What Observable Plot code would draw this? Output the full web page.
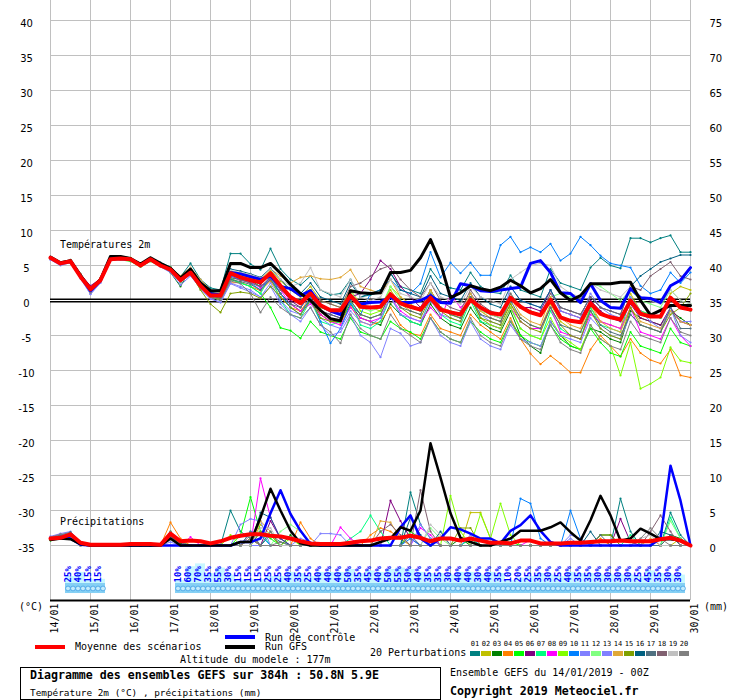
<!DOCTYPE html>
<html><head><meta charset="utf-8">
<script src="https://cdn.jsdelivr.net/npm/d3@7"></script>
<script src="https://cdn.jsdelivr.net/npm/@observablehq/plot@0.6"></script>
<style>
body{margin:0;background:#fff;}
#wrap{position:relative;width:740px;height:700px;font-family:"DejaVu Sans Mono",monospace;font-size:10px;color:#000;overflow:hidden;}
#wrap svg{position:absolute;left:0;top:0;}
.abs{position:absolute;white-space:nowrap;line-height:1;}
.bar{position:absolute;height:4px;width:30px;}
</style></head><body><div id="wrap"></div>
<script>
// ---------- tick labels ----------
const dayLabels = ["14/01","15/01","16/01","17/01","18/01","19/01","20/01","21/01","22/01","23/01","24/01","25/01","26/01","27/01","28/01","29/01","30/01"];
const tempTicks = [-35,-30,-25,-20,-15,-10,-5,0,5,10,15,20,25,30,35,40];
const precipTicks = [0,5,10,15,20,25,30,35,40,45,50,55,60,65,70,75];
const mmOffset = 35; // right axis (mm) = left axis (°C) + 35

// ---------- temperature 2m (°C), every 6h from 14/01 00Z ----------
const meanT = [6.1,5.3,5.6,3.4,1.6,2.9,5.9,6.0,5.9,5.0,5.9,5.0,
 4.4,2.9,4.0,2.1,0.7,0.7,3.9,3.3,2.9,2.6,3.9,2.1,0.5,
 -0.4,1.0,-0.7,-1.4,-1.4,0.7,-0.9,-1.0,-0.9,0.9,-0.4,-0.9,-1.3,0.4,-1.3,-1.7,-2.0,0.1,-1.0,-1.8,-2.0,
 0.4,-0.9,-1.7,-2.1,0.1,-2.4,-2.9,-3.1,-0.4,-1.9,-2.4,-2.7,0.0,-1.9,-2.3,-2.3,0.4,-1.0,-1.3];
const ctrlT = [6.1,5.3,5.6,3.5,1.4,2.9,6.0,6.0,5.9,5.1,5.9,5.1,
 4.5,3.0,4.2,2.4,1.0,0.8,4.0,3.8,3.4,3.0,3.5,2.0,1.7,
 0.7,1.4,-0.7,-1.5,-2.0,0.5,-0.5,-0.3,-0.2,0.5,-0.3,-0.3,0.0,0.7,-0.3,-0.4,2.4,2.1,1.4,1.3,1.5,
 1.7,1.9,5.3,5.7,4.0,1.1,1.0,-0.3,2.4,0.0,-1.0,-1.1,1.7,0.4,0.3,-0.3,2.1,2.9,4.7];
const gfsT = [6.2,5.4,5.7,3.6,1.6,3.0,6.3,6.3,6.0,5.2,6.1,5.3,
 4.6,3.2,4.5,2.5,1.4,1.4,5.3,5.3,4.7,4.7,5.3,3.9,2.3,
 1.0,0.0,-1.4,-2.6,-2.9,1.4,1.1,1.0,1.1,4.0,4.0,4.3,6.1,8.7,5.3,0.4,1.1,2.1,1.7,1.4,1.9,
 2.9,2.1,1.1,1.7,3.0,1.1,0.0,0.7,2.4,2.4,2.4,2.6,2.6,0.0,-2.1,-1.4,-0.7,-0.7,-0.7];
const t01 = [6.2,5.4,5.8,3.8,1.8,3.2,6.3,6.2,6.0,5.3,6.1,5.4,
 4.8,3.4,5.3,3.0,1.8,1.5,6.7,6.7,5.2,4.4,7.4,4.5,3.0,
 2.2,3.5,1.5,0.8,1.0,3.0,0.5,0.8,1.2,3.8,2.0,1.5,1.0,4.5,2.5,1.8,1.5,4.0,2.0,1.2,1.0,
 3.6,1.5,1.0,0.5,4.5,2.5,2.0,1.5,4.7,6.1,5.0,4.6,8.9,8.9,8.3,8.9,9.3,6.9,6.9];
const t02 = [6.1,5.3,5.6,3.6,1.5,2.9,6.0,6.1,5.9,5.1,5.9,5.1,
 4.5,3.1,4.3,2.5,1.2,0.8,4.2,3.9,3.6,3.0,4.3,2.8,1.5,
 0.5,2.0,0.0,-0.5,-1.0,1.5,-0.5,-1.0,-1.5,1.5,-0.5,-1.5,-2.0,1.0,-1.0,-2.0,-2.5,0.5,-1.5,-2.5,-3.0,
 -0.5,-2.5,-3.5,-4.0,-0.5,-3.0,-4.0,-4.5,-1.0,-3.0,-3.5,-4.0,1.0,-1.5,-2.0,-2.5,1.0,2.0,1.5];
const t03 = [6.0,5.3,5.5,3.5,1.4,2.9,6.0,6.0,5.9,5.0,5.8,5.0,
 4.0,2.0,4.5,2.8,1.0,0.2,3.0,3.3,2.8,2.0,3.0,1.0,-0.5,
 -1.5,0.0,-2.0,-3.0,-3.0,-0.5,-2.5,-3.0,-3.5,-0.5,-2.0,-3.0,-3.5,-0.5,-2.5,-3.5,-4.0,-1.0,-3.0,-4.0,-4.5,
 -1.5,-5.0,-6.5,-7.5,-3.0,-5.0,-6.5,-7.0,-4.0,-4.5,-5.5,-6.0,-1.5,-2.5,-3.0,-3.5,-1.5,-2.5,-3.5];
const t04 = [6.0,5.3,5.6,3.4,1.3,2.8,6.0,5.9,5.9,5.0,5.9,5.1,
 4.4,2.9,4.0,2.4,0.8,0.2,2.5,2.6,2.0,1.4,2.8,0.5,-1.0,
 -1.5,0.5,-2.0,-3.0,-3.2,-0.8,-3.0,-3.5,-3.0,-1.0,-3.5,-4.7,-5.0,-2.0,-4.0,-4.5,-5.0,-2.0,-3.5,-4.5,-5.5,
 -2.5,-5.5,-7.6,-9.1,-7.9,-9.0,-10.3,-10.3,-7.0,-5.0,-6.5,-8.0,-5.5,-7.5,-8.5,-9.0,-7.0,-10.7,-11.0];
const t05 = [6.0,5.2,5.4,3.3,1.3,2.7,5.8,5.8,5.6,4.8,5.6,4.9,
 4.2,2.6,3.8,2.0,0.6,0.0,3.0,2.5,2.0,1.0,-1.0,-3.9,-4.3,
 -5.4,-3.0,-4.5,-5.0,-5.5,-2.5,-4.5,-5.0,-5.5,-3.0,-4.0,-4.5,-5.5,-2.5,-4.5,-5.5,-6.0,-3.0,-4.5,-5.5,-6.0,
 -3.0,-5.0,-6.0,-6.5,-3.5,-5.5,-6.5,-7.0,-4.0,-6.0,-7.5,-8.0,-4.5,-6.5,-7.0,-7.5,-4.0,-6.0,-6.5];
const t06 = [6.2,5.4,5.6,3.7,2.1,3.1,6.1,6.0,6.0,5.2,6.0,5.2,
 4.6,3.2,4.4,2.5,1.0,0.6,3.6,3.2,2.9,2.3,3.8,1.8,0.0,
 -1.0,0.8,-1.5,-2.0,-2.5,0.5,1.0,3.0,5.7,4.5,2.0,0.5,-1.0,1.5,-1.0,-1.5,-2.0,1.0,-1.0,-2.0,-2.5,
 0.5,-1.0,-1.0,-1.5,1.5,-1.5,-2.0,-2.5,0.0,-1.5,-2.5,-3.0,-0.5,-2.5,-3.0,-3.5,-1.0,-3.0,-3.5];
const t07 = [6.1,5.3,5.6,3.6,1.6,3.0,6.1,6.1,6.0,5.1,5.9,5.1,
 4.5,3.0,4.3,2.2,0.8,0.5,3.2,2.5,2.0,1.0,3.5,0.0,-2.0,
 -2.5,0.0,-3.0,-3.5,-3.0,0.0,-3.5,-4.0,-3.0,0.5,-2.0,-3.0,-3.5,0.5,-2.0,-3.0,-3.5,0.0,-3.0,-3.5,-4.0,
 -1.0,-4.0,-5.0,-5.5,-1.5,-4.0,-5.0,-5.5,-1.0,-3.5,-4.0,-4.5,0.5,-1.5,-2.0,-2.5,0.5,-1.0,-1.5];
const t08 = [6.1,5.3,5.7,3.6,1.5,3.0,6.0,6.0,5.9,5.1,5.9,5.1,
 4.4,3.0,4.0,2.2,0.8,0.7,3.5,3.0,2.7,1.8,3.2,1.5,-0.5,
 -1.5,-0.5,-2.0,-3.0,-3.5,-1.0,-2.5,-3.0,-2.5,0.5,-1.5,-2.5,-3.0,-1.0,-2.5,0.8,-1.0,0.5,-2.5,-3.5,-4.0,
 -1.0,-3.0,-4.0,-4.0,-1.0,-4.5,-5.0,-5.5,-2.0,-3.0,-3.5,-4.0,-1.0,-4.5,-5.0,-5.5,-2.5,-5.0,-6.5];
const t09 = [6.1,5.4,5.7,3.6,1.5,3.0,6.2,6.3,6.1,5.2,6.0,5.2,
 4.7,3.3,4.5,2.6,1.2,1.0,4.0,3.6,3.2,2.5,4.0,2.0,0.5,
 -0.5,1.5,-1.0,-1.5,-2.0,1.0,-1.5,-2.0,-1.5,2.0,0.5,-0.5,-1.5,1.5,-1.0,-2.0,-2.5,0.5,-2.5,-3.5,-4.0,
 -1.0,-4.0,-5.0,-5.5,-2.5,-5.0,-6.0,-7.0,-3.5,-5.5,-6.5,-10.7,-6.0,-12.6,-11.9,-11.0,-6.7,-8.6,-8.9];
const t10 = [6.0,5.2,5.5,3.4,1.2,2.8,5.9,6.1,5.8,5.0,5.8,5.0,
 4.5,2.8,4.2,2.0,0.5,0.5,3.5,3.0,2.5,1.5,3.5,1.0,-1.0,
 -2.0,0.5,-3.0,-6.1,-4.0,-0.5,-2.0,1.0,1.5,3.0,1.5,1.0,2.4,6.9,3.3,5.4,3.9,5.4,3.6,3.6,7.9,
 9.1,6.9,7.6,6.9,8.1,5.7,6.7,9.1,7.9,6.4,5.3,5.0,4.7,2.1,1.0,1.5,4.0,2.5,4.0];
const t11 = [5.8,5.0,5.4,3.1,0.9,2.5,5.7,5.8,5.7,4.9,5.7,4.8,
 4.0,2.2,3.5,1.8,0.3,-0.3,2.5,2.0,1.5,0.5,2.0,-0.5,-2.0,
 -3.0,-1.0,-3.5,-5.0,-4.5,-2.0,-5.0,-6.0,-8.1,-4.0,-4.7,-6.5,-6.0,-2.5,-5.0,-6.0,-6.5,-3.0,-5.5,-6.5,-7.0,
 -3.5,-5.5,-6.0,-6.5,-3.0,-5.0,-5.5,-6.0,-2.5,-4.0,-5.0,-5.5,-2.0,-3.5,-4.0,-4.5,-1.5,-3.0,-3.0];
const t12 = [6.0,5.3,5.6,3.5,1.5,2.9,6.0,6.0,5.9,5.1,5.9,5.0,
 4.4,3.0,4.2,2.4,1.0,0.6,3.8,3.4,3.0,2.5,4.0,2.0,0.5,
 -0.5,1.5,-1.0,-1.5,-1.5,1.5,-1.0,-1.5,-1.0,2.0,0.0,-1.0,-1.5,1.0,-1.0,-1.5,-2.0,1.0,-1.5,-2.0,-2.5,
 1.0,-1.0,-1.5,-2.0,0.5,1.0,0.5,0.0,2.5,2.0,1.0,0.0,1.5,0.0,-0.5,-1.0,1.5,0.0,-0.5];
const t13 = [5.9,5.1,5.5,3.3,0.9,2.6,5.8,5.9,5.8,4.9,5.8,4.9,
 4.2,2.6,3.7,1.6,0.2,-0.2,2.4,1.8,1.2,0.5,2.5,0.0,-1.5,
 -2.0,0.0,-2.5,-3.5,-4.0,-1.5,-3.0,-3.5,-2.5,0.5,-2.0,-2.5,-3.0,0.0,-2.0,-2.5,-3.0,0.5,-2.0,-3.0,-3.5,
 2.0,0.0,-0.5,-1.0,1.5,-1.5,-2.0,-2.5,1.0,-1.0,-2.0,-2.5,0.5,-1.5,-3.0,-4.0,-1.0,-5.0,-6.0];
const t14 = [6.2,5.5,5.8,3.8,1.7,3.2,6.3,6.2,6.1,5.3,6.1,5.3,
 4.7,3.5,4.7,3.0,1.5,1.0,4.0,3.8,3.5,3.2,4.5,3.5,2.5,
 3.3,3.5,3.1,3.0,3.3,4.4,2.0,1.5,1.0,3.0,0.5,-0.5,-1.5,1.5,-1.0,-1.5,-2.0,1.0,-1.5,-2.5,-3.0,
 0.5,-2.0,-3.0,-3.5,0.5,-2.5,-3.5,-4.0,-0.5,-3.0,-4.0,-4.5,-1.0,-3.0,-3.5,-4.0,-1.5,-3.0,-3.5];
const t15 = [6.0,5.2,5.5,3.4,1.2,2.8,5.9,5.9,5.8,4.9,5.7,4.9,
 4.3,2.7,3.9,1.5,-0.5,-1.7,1.0,1.2,1.0,0.3,2.0,0.5,-1.0,
 -2.0,0.0,-2.5,-3.0,-3.0,0.0,-2.0,-2.5,-2.0,1.0,-1.0,-2.0,-2.5,0.5,-1.5,-2.5,-3.0,0.5,-2.5,-3.0,-3.5,
 -0.5,-3.0,-4.0,-4.5,-1.0,-3.5,-5.0,-5.5,-1.5,-4.0,-5.0,-5.5,-1.0,-3.5,-4.0,-4.5,-2.0,-1.0,1.0];
const t16 = [6.1,5.4,5.7,3.6,1.5,3.0,6.1,6.1,6.0,5.2,6.0,5.2,
 4.6,3.2,4.4,2.6,1.1,0.8,4.5,4.2,3.8,3.3,4.6,3.0,1.5,
 1.0,2.5,0.5,0.0,-0.5,2.5,0.5,1.0,1.5,4.0,1.5,1.0,0.5,3.5,1.0,0.5,0.0,2.5,0.5,-0.5,-1.0,
 2.0,0.0,-0.5,-1.0,1.5,-1.0,-1.5,-2.0,0.5,-1.0,-1.5,-2.0,2.0,3.5,4.5,5.5,6.0,6.5,6.5];
const t17 = [6.0,5.2,5.5,3.5,1.4,2.8,5.9,5.9,5.8,5.0,5.8,5.0,
 4.3,2.8,4.0,2.2,0.7,0.3,3.0,2.7,2.3,1.5,3.0,1.0,-0.5,
 -1.0,1.0,-1.5,-2.0,-2.5,0.0,-2.0,-2.5,-2.0,1.0,-1.0,-1.5,-2.0,1.0,-1.0,-2.0,-2.5,0.5,-2.0,-2.5,-3.0,
 0.0,-2.5,-3.5,-4.0,-1.0,-3.5,-4.0,-4.5,-1.5,-3.5,-4.5,-5.0,-2.0,-3.5,-4.0,-4.5,-1.0,-4.0,-4.0];
const t18 = [6.1,5.3,5.6,3.6,1.5,2.9,6.0,6.0,5.9,5.1,5.9,5.1,
 4.4,3.0,4.2,2.3,0.9,0.5,3.3,2.9,2.5,2.0,3.3,1.5,0.5,
 0.0,1.5,0.0,-0.5,-1.0,2.0,2.5,3.5,4.5,5.0,3.0,1.5,0.5,2.5,0.0,-1.0,-1.5,1.5,-0.5,-1.5,-2.0,
 1.0,-1.0,-1.5,-2.0,1.0,-1.0,-1.5,-2.0,0.5,-1.0,-1.5,-2.0,2.0,1.5,3.5,4.5,5.5,3.5,3.0];
const t19 = [6.2,5.4,5.7,3.7,1.7,3.1,6.2,6.1,6.0,5.2,6.0,5.2,
 4.6,3.3,4.6,2.8,1.4,1.0,4.3,4.0,3.7,3.2,4.5,3.0,2.0,
 2.5,4.7,1.5,1.0,0.5,3.0,0.5,0.0,0.5,3.0,1.0,0.5,0.0,2.5,0.5,0.0,-0.5,2.0,0.5,0.0,-0.5,
 3.0,4.0,5.0,5.3,5.0,2.0,1.0,0.5,2.5,1.5,1.0,0.5,2.0,0.5,0.0,-0.5,1.5,0.0,-0.5];
const t20 = [6.0,5.2,5.5,3.4,1.1,2.7,5.9,5.9,5.8,4.9,5.8,4.9,
 4.3,2.7,3.9,2.0,0.5,0.0,2.8,2.4,1.0,-1.7,0.5,-1.0,-2.0,
 -2.5,-1.0,-3.5,-4.5,-6.1,-2.0,-4.0,-5.0,-5.5,-2.0,-4.0,-5.0,-6.0,-2.5,-4.5,-5.5,-6.0,-2.5,-5.0,-6.0,-6.5,
 -3.0,-5.5,-6.5,-7.0,-3.5,-6.0,-7.0,-7.5,-3.5,-5.5,-6.5,-7.0,-3.0,-5.0,-5.5,-6.0,-2.5,-4.5,-5.0];

// ---------- precipitation (mm / 6h) ----------
const meanP = [1.0,1.1,1.6,0.4,0.1,0.1,0.1,0.1,0.2,0.2,0.2,0.1,
 1.7,0.6,0.7,0.6,0.3,0.6,1.1,1.4,1.6,1.6,1.4,1.3,1.0,
 0.6,0.3,0.2,0.2,0.2,0.4,0.6,0.7,1.0,1.1,1.1,1.4,1.1,0.6,1.0,1.0,0.7,1.0,0.7,0.4,0.4,
 0.3,0.7,0.7,0.3,0.3,0.3,0.4,0.4,0.5,0.6,0.6,0.7,0.6,0.6,0.6,0.9,1.1,0.7,0.0];
// [step, mm] pairs, 0 mm at all other steps
const gfsP = [[0,0.8],[1,1.0],[2,0.9],[3,0.2],[12,1.0],[19,0.5],[20,0.5],[21,4.0],[22,8.1],[23,5.0],[24,2.1],[25,0.3],[33,0.5],[34,1.0],[35,2.6],[36,2.1],[37,5.0],[38,14.6],[39,9.7],[40,4.6],[41,1.1],[42,0.5],[45,0.5],[46,1.0],[47,2.1],[48,2.1],[49,2.1],[50,2.6],[51,3.3],[52,1.9],[53,0.7],[54,3.6],[55,7.1],[56,4.3],[57,0.7],[58,1.0],[59,2.4],[60,1.7],[61,0.9],[62,0.9],[63,0.7]];
const ctrlP = [[0,0.9],[1,1.2],[2,1.0],[3,0.1],[19,0.5],[20,0.5],[21,1.0],[22,4.6],[23,7.9],[24,4.5],[25,2.1],[26,0.2],[35,2.6],[36,4.3],[37,1.0],[39,1.0],[40,2.6],[41,2.3],[42,1.7],[43,1.0],[44,1.0],[45,0.3],[46,2.1],[47,2.9],[48,4.3],[49,2.1],[50,0.5],[61,1.0],[62,11.4],[63,6.4]];
const p01 = [[0,0.9],[1,1.3],[2,1.5],[3,0.3],[12,1.0],[13,0.3],[18,5.0],[19,2.0],[20,1.0],[22,1.5],[23,0.5],[30,0.5],[36,7.6],[37,3.0],[38,1.0],[42,1.0],[57,6.7],[58,2.0],[62,4.7],[63,1.5]];
const p02 = [[0,1.0],[1,1.2],[2,1.8],[3,0.4],[12,1.0],[21,3.0],[22,1.5],[42,4.7],[43,4.7],[44,1.0],[63,1.0]];
const p03 = [[0,0.8],[1,1.0],[2,1.4],[3,0.2],[12,2.0],[13,0.4],[20,1.0],[24,1.5],[41,1.0],[55,1.5],[56,1.5],[62,1.5],[63,1.0]];
const p04 = [[0,1.1],[1,1.4],[2,1.6],[3,0.3],[12,3.3],[13,1.0],[20,1.0],[25,3.3],[26,1.0],[32,1.5],[33,2.5],[34,2.0],[35,1.0],[55,1.0]];
const p05 = [[0,0.7],[1,1.1],[2,1.2],[3,0.2],[12,1.5],[19,1.5],[20,6.9],[21,2.0],[22,1.0],[36,2.0],[37,1.0],[46,0.5]];
const p06 = [[0,0.9],[1,1.2],[2,1.3],[12,1.0],[22,3.5],[23,1.0],[34,6.4],[35,3.5],[36,1.0],[57,3.8],[58,0.5]];
const p07 = [[0,1.0],[1,1.5],[2,1.7],[3,0.3],[12,1.0],[21,2.0],[30,1.0],[31,2.0],[32,4.3],[33,2.0],[42,1.0],[58,1.5],[62,4.0],[63,1.0]];
const p08 = [[0,1.2],[1,1.6],[2,1.5],[3,0.4],[12,1.2],[14,1.2],[21,9.6],[22,4.0],[23,1.0],[29,2.6],[30,1.0],[37,2.5],[38,1.5],[48,0.8]];
const p09 = [[0,0.8],[1,1.2],[2,1.3],[12,1.0],[18,1.5],[24,1.0],[40,7.1],[41,2.0],[43,4.5],[44,1.0],[45,6.0],[46,1.5]];
const p10 = [[0,0.9],[1,1.3],[2,1.4],[3,0.2],[12,1.0],[20,2.0],[21,1.5],[36,1.0],[47,6.7],[48,6.0],[49,1.0],[52,5.0],[53,1.0]];
const p11 = [[0,1.3],[1,1.7],[2,2.0],[3,0.5],[12,0.8],[19,3.0],[20,3.8],[21,3.5],[27,1.7],[28,1.7],[29,1.5],[42,1.5],[52,1.5],[53,1.0]];
const p12 = [[0,0.8],[1,1.1],[2,1.2],[12,1.0],[23,2.0],[24,3.0],[25,2.0],[38,2.5],[39,1.0],[62,3.5],[63,1.0]];
const p13 = [[0,1.0],[1,1.4],[2,1.6],[3,0.3],[12,0.5],[25,1.0],[26,0.5],[37,3.0],[38,1.0],[52,1.0]];
const p14 = [[0,0.9],[1,1.2],[2,1.4],[12,1.5],[21,3.5],[22,2.0],[33,3.5],[34,3.3],[35,1.0],[60,1.0]];
const p15 = [[0,0.8],[1,1.0],[2,1.1],[12,1.0],[13,0.5],[21,2.0],[22,1.5],[41,2.5],[42,2.5],[55,1.5],[56,1.5]];
const p16 = [[0,1.0],[1,1.3],[2,1.5],[3,0.3],[12,1.5],[21,4.7],[22,4.0],[23,1.0],[36,4.0],[37,1.5],[39,2.0],[54,2.0],[61,2.0],[62,1.5]];
const p17 = [[0,1.1],[1,1.5],[2,1.9],[3,0.4],[12,1.2],[20,2.0],[22,2.0],[36,1.5],[55,1.5],[62,1.5]];
const p18 = [[0,0.9],[1,1.2],[2,1.3],[12,1.0],[20,1.5],[33,2.0],[34,3.0],[35,1.5],[37,7.9],[38,2.0],[60,2.0],[61,4.3],[62,2.0]];
const p19 = [[0,0.8],[1,1.1],[2,1.3],[12,0.8],[21,2.5],[22,2.5],[38,3.0],[39,1.5],[59,1.0],[60,1.5]];
const p20 = [[0,1.2],[1,1.6],[2,1.7],[3,0.3],[12,2.0],[13,0.5],[20,1.0],[23,0.5],[59,1.0],[60,2.5],[61,1.0]];

// ---------- precipitation probability (%) per 6h step ----------
const probGroupA = {start: 1, values: [25,40,15,15]};
const probGroupB = {start: 12, values: [10,60,70,35,55,30,15,15,15,25,25,40,35,25,40,40,40,50,35,45,40,50,55,50,40,35,35,30,40,40,30,40,35,10,20,25,35,30,25,40,35,35,30,30,30,30,25,45,35,30,30]};

// ---------- colours ----------
const pertIds = ["01","02","03","04","05","06","07","08","09","10","11","12","13","14","15","16","17","18","19","20"];
const pertColors = ["#008080","#c0c000","#008000","#ff8000","#00ff00","#800080","#00ff80","#ff00ff","#80ff00","#0080ff","#8080ff","#80ff80","#8080ff","#e0a838","#80a000","#006080","#507080","#806070","#c0c0c0","#808080"];
const pertTemps = [t01,t02,t03,t04,t05,t06,t07,t08,t09,t10,t11,t12,t13,t14,t15,t16,t17,t18,t19,t20];
const pertPrecs = [p01,p02,p03,p04,p05,p06,p07,p08,p09,p10,p11,p12,p13,p14,p15,p16,p17,p18,p19,p20];

// ---------- build ----------
const STEP = 6;
const nSteps = meanT.length;
const expand = pairs => { const a = new Array(nSteps).fill(0); pairs.forEach(([k, v]) => { a[k] = v; }); return a; };
const tSeries = arr => arr.map((v, k) => ({h: k * STEP, v}));
const pSeries = arr => arr.map((v, k) => ({h: k * STEP, v: v - mmOffset}));
const dayHours = dayLabels.map((_, i) => i * 24);

const probRows = [];
[probGroupA, probGroupB].forEach(g => g.values.forEach((p, i) => probRows.push({k: g.start + i, p})));
const stripTop = -40.43, stripBottom = -41.86, stripMid = -41.14;
const bubbles = [];
probRows.forEach(d => { bubbles.push({h: (d.k + 0.75) * STEP}); bubbles.push({h: (d.k + 1.25) * STEP}); });

const marks = [
  Plot.ruleX(dayHours, {x: d => d, stroke: "#c0c0c0", strokeWidth: 1}),
  Plot.ruleY(tempTicks, {y: d => d, stroke: "#c0c0c0", strokeWidth: 1}),
  Plot.ruleY([0], {y: d => d, stroke: "#000", strokeWidth: 4}),
  Plot.ruleY([0], {y: d => d, stroke: "#fff", strokeWidth: 1}),
  Plot.rect(probRows, {x1: d => (d.k + 0.5) * STEP, x2: d => (d.k + 1.5) * STEP, y1: d => stripTop, y2: d => stripTop + d.p * 0.04, fill: "#c8f7ff"}),
  Plot.rect(probRows, {x1: d => (d.k + 0.5) * STEP, x2: d => (d.k + 1.5) * STEP, y1: d => stripTop, y2: d => stripBottom, fill: "#86d0f4"}),
  Plot.dot(bubbles, {x: "h", y: d => stripMid, r: 2.4, fill: "#c4ecfc", stroke: "#3f9fe6", strokeWidth: 0.8}),
  Plot.text(probRows, {x: d => (d.k + 0.8) * STEP, y: d => stripTop + 0.15, text: d => d.p + "%", rotate: -90, textAnchor: "start", fill: "#0000ff", fontSize: 9, fontWeight: "bold", fontFamily: "DejaVu Sans Mono"})
];

pertIds.forEach((id, i) => {
  const col = pertColors[i];
  const pp = pSeries(expand(pertPrecs[i]));
  marks.push(Plot.line(pp, {x: "h", y: "v", stroke: col, strokeWidth: 1}));
  marks.push(Plot.dot(pp, {x: "h", y: "v", r: 1.1, fill: col}));
});
pertIds.forEach((id, i) => {
  const col = pertColors[i];
  const tt = tSeries(pertTemps[i]);
  marks.push(Plot.line(tt, {x: "h", y: "v", stroke: col, strokeWidth: 1}));
  marks.push(Plot.dot(tt, {x: "h", y: "v", r: 1.1, fill: col}));
});

marks.push(
  Plot.line(pSeries(expand(ctrlP)), {x: "h", y: "v", stroke: "#0000ff", strokeWidth: 2.5}),
  Plot.line(tSeries(ctrlT), {x: "h", y: "v", stroke: "#0000ff", strokeWidth: 3}),
  Plot.line(pSeries(expand(gfsP)), {x: "h", y: "v", stroke: "#000", strokeWidth: 2.5}),
  Plot.line(tSeries(gfsT), {x: "h", y: "v", stroke: "#000", strokeWidth: 3}),
  Plot.line(pSeries(meanP), {x: "h", y: "v", stroke: "#ff0000", strokeWidth: 4}),
  Plot.line(tSeries(meanT), {x: "h", y: "v", stroke: "#ff0000", strokeWidth: 4}),
  Plot.ruleY([-300 / 7], {y: d => d, stroke: "#000", strokeWidth: 2}),
  Plot.text(tempTicks, {frameAnchor: "left", y: d => d, text: d => String(d), dx: -24, dy: 3, textAnchor: "middle", fontFamily: "DejaVu Sans", fontSize: 10}),
  Plot.text(precipTicks, {frameAnchor: "right", y: d => d - mmOffset, text: d => String(d), dx: 19, dy: 3, textAnchor: "start", fontFamily: "DejaVu Sans", fontSize: 10}),
  Plot.text(dayHours, {frameAnchor: "bottom", x: d => d, text: (d, i) => dayLabels[i], rotate: -90, textAnchor: "end", dx: 7.5, dy: 3, fontFamily: "DejaVu Sans Mono", fontSize: 10})
);

const chart = Plot.plot({
  width: 740, height: 640,
  marginLeft: 50, marginRight: 50, marginTop: 0, marginBottom: 40,
  x: {domain: [0, 384], axis: null},
  y: {domain: [-300 / 7, 300 / 7], axis: null},
  style: {fontFamily: "DejaVu Sans Mono", fontSize: "10px", background: "transparent", overflow: "visible"},
  marks
});

const wrap = document.getElementById("wrap");
wrap.appendChild(chart);

function addText(txt, left, top, css) {
  const d = document.createElement("div");
  d.className = "abs"; d.textContent = txt;
  d.style.left = left + "px"; d.style.top = top + "px";
  if (css) Object.assign(d.style, css);
  wrap.appendChild(d); return d;
}
function addBar(left, top, color, w, h) {
  const d = document.createElement("div");
  d.style.position = "absolute"; d.style.left = left + "px"; d.style.top = top + "px";
  d.style.width = (w || 30) + "px"; d.style.height = (h || 4) + "px"; d.style.background = color;
  wrap.appendChild(d); return d;
}
addText("Températures 2m", 60, 240);
addText("Précipitations", 60, 517);
addText("(°C)", 19, 602);
addText("(mm)", 704, 602);
addBar(35, 645, "#ff0000");
addText("Moyenne des scénarios", 75, 642);
addBar(225, 635, "#0000ff");
addText("Run de contrôle", 265, 632.5);
addBar(225, 645, "#000000");
addText("Run GFS", 265, 642);
addText("Altitude du modele : 177m", 180, 655);
addText("20 Perturbations", 370, 648);
pertIds.forEach((id, i) => {
  addText(id, 470 + 11 * i, 641, {fontSize: "7px", width: "10px", textAlign: "center"});
  addBar(470 + 11 * i, 651, pertColors[i], 10, 5);
});
const box = document.createElement("div");
Object.assign(box.style, {position: "absolute", left: "20px", top: "667px", width: "419px", height: "31px", border: "1px solid #000"});
wrap.appendChild(box);
addText("Diagramme des ensembles GEFS sur 384h : 50.8N 5.9E", 30, 670, {fontSize: "11.6px", fontWeight: "bold"});
addText("Température 2m (°C) , précipitations (mm)", 30, 687.5, {fontSize: "9.4px"});
addText("Ensemble GEFS du 14/01/2019 - 00Z", 450, 668);
addText("Copyright 2019 Meteociel.fr", 450, 686.3, {fontSize: "11.6px", fontWeight: "bold"});
</script></body></html>
